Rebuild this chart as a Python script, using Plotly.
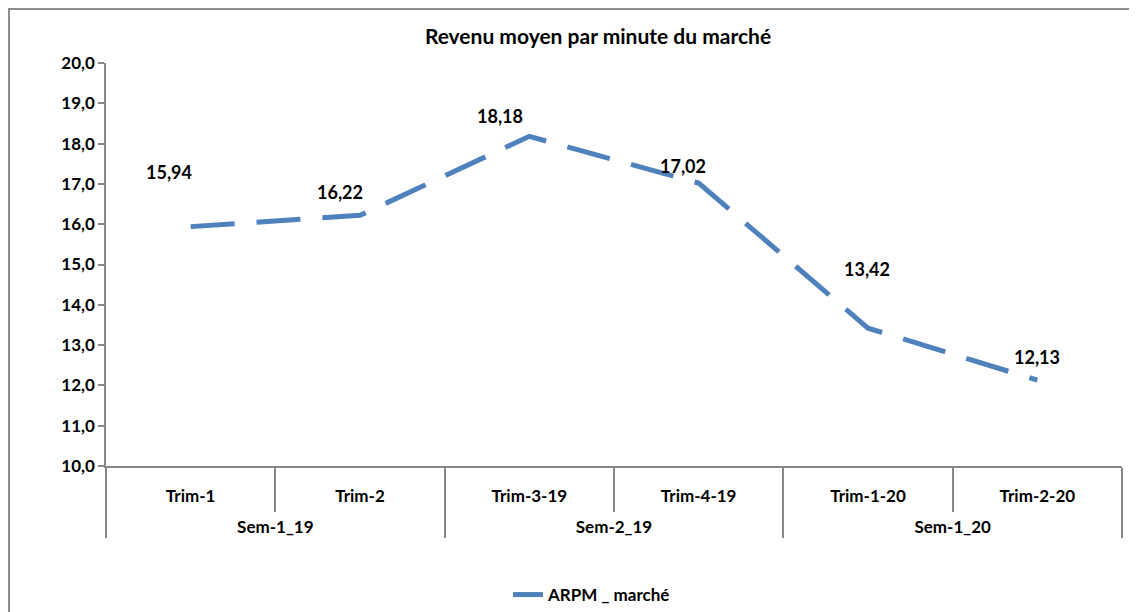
import plotly.graph_objects as go

semesters = ["Sem-1_19", "Sem-1_19", "Sem-2_19", "Sem-2_19", "Sem-1_20", "Sem-1_20"]
quarters = ["Trim-1", "Trim-2", "Trim-3-19", "Trim-4-19", "Trim-1-20", "Trim-2-20"]
arpm = [15.94, 16.22, 18.18, 17.02, 13.42, 12.13]
labels = ["15,94", "16,22", "18,18", "17,02", "13,42", "12,13"]
y_ticks = [10, 11, 12, 13, 14, 15, 16, 17, 18, 19, 20]

# label pixel offsets (styling)
label_shift = [(-22, 55), (-20, 23), (-29, 20), (-16, 17), (-1, 59), (0, 23)]

OFF = 8  # default page body margin
W, H = 1137 - OFF, 612 - OFF
L, R, T = 106 - OFF, 15, 63 - OFF
B = H - (466 - OFF)
pw, ph = W - L - R, H - T - B

font = "Lato, 'Open Sans', sans-serif"
blue = "#4F81BD"
grey = "#878787"

# display labels for multicategory axis
q_disp = list(quarters)
s_disp = ["<br>%s" % s for s in semesters]

fig = go.Figure()
fig.add_trace(go.Scatter(
    x=[s_disp, q_disp], y=arpm, mode="lines", name="ARPM _ marché",
    line=dict(color=blue, width=5, dash="44px,22px"),
))

for i, (v, t) in enumerate(zip(arpm, labels)):
    dx, dy = label_shift[i]
    fig.add_annotation(x=i, y=v, text="<b>%s</b>" % t, showarrow=False,
                       xshift=dx, yshift=dy, font=dict(size=18, color="black", family=font))

def px2x(p):
    return (p - OFF - L) / pw

def py2y(p):
    return (H - B - (p - OFF)) / ph

fig.add_shape(type="path", xref="paper", yref="paper",
              path="M %f,%f L %f,%f L %f,%f" % (px2x(9), py2y(640), px2x(9), py2y(9), px2x(1150), py2y(9)),
              line=dict(color="#8c8c8c", width=2))

tf = dict(size=17, family=font, color="black", weight="bold")

fig.update_layout(
    width=W, height=H,
    margin=dict(l=L, r=R, t=T, b=B, autoexpand=False),
    paper_bgcolor="white", plot_bgcolor="white",
    separators=", ",
    title=dict(text="<b>Revenu moyen par minute du marché</b>", x=(598 - OFF) / W, xanchor="center",
               y=1 - (37 - OFF) / H, yanchor="middle", font=dict(size=21, color="black", family=font)),
    font=dict(family=font, size=17, color="black"),
    showlegend=True,
    legend=dict(orientation="h", x=px2x(592), xanchor="center", y=py2y(595), yanchor="middle",
                font=dict(size=17, family=font, color="black", weight="bold")),
    xaxis=dict(
        type="multicategory", showline=True, linecolor=grey, linewidth=1.5, automargin=False,
        ticks="outside", tickson="boundaries", ticklen=44, tickcolor=grey, tickwidth=1.5,
        showdividers=True, dividercolor=grey, dividerwidth=1.5, ticklabelstandoff=14,
        tickfont=tf, showgrid=False, range=[-0.5, 5.5],
    ),
    yaxis=dict(
        range=[10, 20], tickvals=y_ticks, tickformat=".1f", showgrid=False, automargin=False,
        showline=True, linecolor=grey, linewidth=1.5, ticks="outside", ticklen=6,
        tickcolor=grey, tickwidth=1.5, zeroline=False, tickfont=tf,
    ),
)

fig.update_traces(hoverinfo="skip")
fig.write_html("out.html")
